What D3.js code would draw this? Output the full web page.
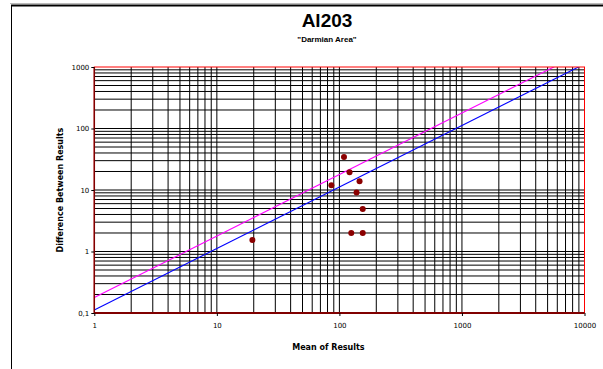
<!DOCTYPE html>
<html>
<head>
<meta charset="utf-8">
<script src="https://cdn.jsdelivr.net/npm/d3@7"></script>
<style>
  body { margin: 0; background: #fff; }
  text { font-family: "DejaVu Sans", Verdana, sans-serif; }
</style>
</head>
<body>
<div id="chart"></div>
<script>
// data
var meanValues = [109, 121, 146, 86, 138, 155, 125, 155, 19.5];
var diffValues = [34.5, 19.4, 13.9, 12, 9.1, 4.9, 2.0, 2.0, 1.54];
var xTicks = [1, 10, 100, 1000, 10000];
var yTicks = [0.1, 1, 10, 100, 1000];
// precision lines: difference = k * mean
var lineNames = ["upper", "lower"];
var lineSlopes = [0.178, 0.112];

var width = 603, height = 369;
var margin = {top: 67, right: 18.5, bottom: 56, left: 94.3};

var svg = d3.select("#chart").append("svg")
    .attr("width", width)
    .attr("height", height);

// outer frame
svg.append("line").attr("x1", 10).attr("x2", 603).attr("y1", 3.5).attr("y2", 3.5)
    .attr("stroke", "#bbb").attr("stroke-width", 1);
svg.append("line").attr("x1", 11).attr("x2", 603).attr("y1", 5.5).attr("y2", 5.5)
    .attr("stroke", "#000").attr("stroke-width", 2);
svg.append("line").attr("x1", 11.5).attr("x2", 11.5).attr("y1", 5).attr("y2", 369)
    .attr("stroke", "#000").attr("stroke-width", 1);

svg.append("text").attr("x", 327).attr("y", 27)
    .attr("text-anchor", "middle")
    .style("font-family", "Liberation Sans, Arial, sans-serif")
    .style("font-weight", "bold").style("font-size", "19px")
    .text("Al203");
svg.append("text").attr("x", 327).attr("y", 42)
    .attr("text-anchor", "middle")
    .style("font-family", "Liberation Sans, Arial, sans-serif")
    .style("font-weight", "bold").style("font-size", "8px")
    .text("\"Darmian Area\"");

var w = width - margin.left - margin.right,
    h = height - margin.top - margin.bottom;

var g = svg.append("g")
    .attr("transform", "translate(" + margin.left + "," + margin.top + ")");

var x = d3.scaleLog().domain([1, 10000]).range([0, w]);
var y = d3.scaleLog().domain([0.1, 1000]).range([h, 0]);

// grid lines at 1..9 of each decade
var xGrid = x.ticks().filter(function(d) { return d > 1 && d < 10000; });
var yGrid = y.ticks().filter(function(d) { return d > 0.1 && d < 1000; });

g.selectAll(".vgrid").data(xGrid).enter().append("line")
    .attr("x1", function(d) { return x(d); })
    .attr("x2", function(d) { return x(d); })
    .attr("y1", 0).attr("y2", h)
    .attr("stroke", "#000").attr("stroke-width", 1);

g.selectAll(".hgrid").data(yGrid).enter().append("line")
    .attr("y1", function(d) { return y(d); })
    .attr("y2", function(d) { return y(d); })
    .attr("x1", 0).attr("x2", w)
    .attr("stroke", "#000").attr("stroke-width", 1);

g.append("clipPath").attr("id", "clip")
    .append("rect").attr("width", w).attr("height", h);

var lineColors = {upper: "#ff00ff", lower: "#0000ff"};
g.selectAll(".prec").data(lineNames).enter().append("line")
    .attr("clip-path", "url(#clip)")
    .attr("x1", x(1))
    .attr("y1", function(d, i) { return y(lineSlopes[i] * 1); })
    .attr("x2", x(10000))
    .attr("y2", function(d, i) { return y(lineSlopes[i] * 10000); })
    .attr("stroke", function(d) { return lineColors[d]; })
    .attr("stroke-width", 1.1);

// plot border
g.append("rect").attr("width", w).attr("height", h)
    .attr("fill", "none").attr("stroke", "#ff0000").attr("stroke-width", 1);
g.append("line").attr("x1", 0).attr("x2", 0).attr("y1", 0).attr("y2", h)
    .attr("stroke", "#800000").attr("stroke-width", 1.5);
g.append("line").attr("x1", 0).attr("x2", w).attr("y1", h).attr("y2", h)
    .attr("stroke", "#800000").attr("stroke-width", 2);

// points
g.selectAll(".pt").data(meanValues).enter().append("circle")
    .attr("cx", function(d) { return x(d); })
    .attr("cy", function(d, i) { return y(diffValues[i]); })
    .attr("r", 3)
    .attr("fill", "#8b0000");

// axes
var xAxis = d3.axisBottom(x).tickValues(xTicks).tickFormat(d3.format("d"))
    .tickSizeInner(3).tickSizeOuter(0).tickPadding(7);
var yAxis = d3.axisLeft(y).tickValues(yTicks).tickFormat(function(d) { return d < 1 ? "0,1" : d; })
    .tickSizeInner(3).tickSizeOuter(0).tickPadding(2);

var gx = g.append("g").attr("transform", "translate(0," + h + ")").call(xAxis);
var gy = g.append("g").call(yAxis);
[gx, gy].forEach(function(a) {
  a.select(".domain").remove();
  a.selectAll("line").attr("stroke", "#000");
  a.selectAll("text").style("font-size", "7px").attr("fill", "#000");
});

svg.append("text").attr("x", margin.left + x(100) - 11).attr("y", 350)
    .attr("text-anchor", "middle")
    .style("font-weight", "bold").style("font-size", "8px")
    .text("Mean of Results");

svg.append("text")
    .attr("transform", "translate(63,190) rotate(-90)")
    .attr("text-anchor", "middle")
    .style("font-weight", "bold").style("font-size", "8px")
    .text("Difference Between Results");
</script>
</body>
</html>
